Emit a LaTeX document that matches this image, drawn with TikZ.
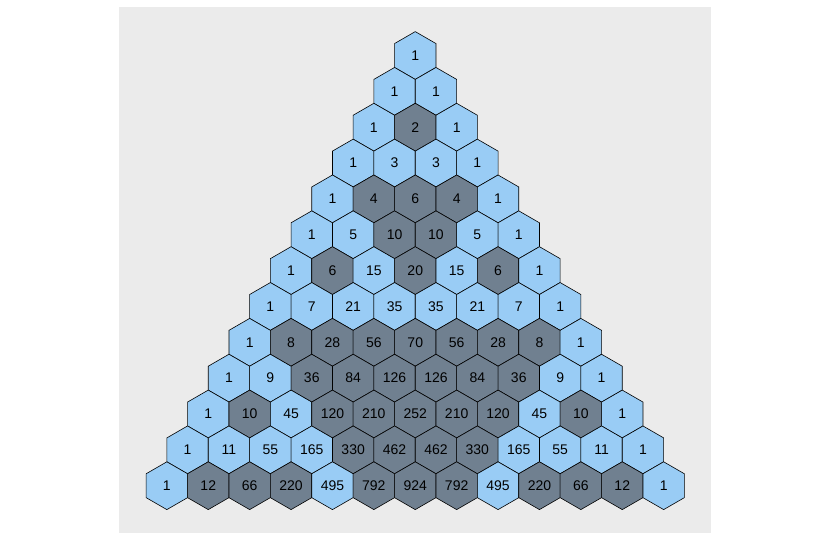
\documentclass[tikz,border=0pt]{standalone}
\usepackage{fontspec}
\setmainfont{Liberation Sans}
\usetikzlibrary{shapes.geometric}
\definecolor{panelgray}{RGB}{235,235,235}
\definecolor{oddblue}{RGB}{153,204,245}
\definecolor{evengray}{RGB}{112,128,144}
\tikzset{
  hexcell/.style={shape=regular polygon, regular polygon sides=6, shape border rotate=30,
    minimum size=47.8pt, inner sep=0pt, outer sep=0pt, draw=black, line width=0.6pt,
    font=\fontsize{14}{16}\selectfont, text=black},
  oddcell/.style={hexcell, fill=oddblue},
  evencell/.style={hexcell, fill=evengray}
}
\begin{document}
\begin{tikzpicture}[x=1pt,y=-1pt]
\useasboundingbox[fill=white] (0,0) rectangle (827,544);
\fill[panelgray] (119,7) rectangle (711,533);
\foreach \row [count=\n from 0] in {{1},{1,1},{1,2,1},{1,3,3,1},{1,4,6,4,1},{1,5,10,10,5,1},{1,6,15,20,15,6,1},{1,7,21,35,35,21,7,1},{1,8,28,56,70,56,28,8,1},{1,9,36,84,126,126,84,36,9,1},{1,10,45,120,210,252,210,120,45,10,1},{1,11,55,165,330,462,462,330,165,55,11,1},{1,12,66,220,495,792,924,792,495,220,66,12,1}}{
  \foreach \v [count=\k from 0] in \row {
    \pgfmathsetmacro\cx{415.25+(\k-\n/2)*41.4}
    \pgfmathsetmacro\cy{55.5+\n*35.85}
    \pgfmathtruncatemacro\parity{mod(\v,2)}
    \ifnum\parity=1
      \node[oddcell] (h-\n-\k) at (\cx,\cy) {\v};
    \else
      \node[evencell] (h-\n-\k) at (\cx,\cy) {\v};
    \fi
  }
}
\end{tikzpicture}
\end{document}
